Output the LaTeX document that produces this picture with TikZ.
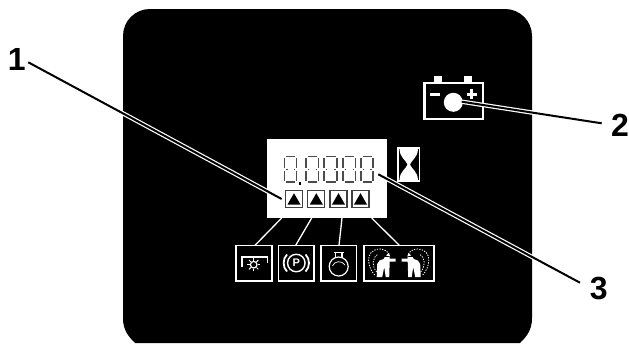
\documentclass[tikz,border=0pt]{standalone}
\usepackage{fontspec}
\setmainfont{Liberation Sans}
\tikzset{
  x=1pt,y=-1pt,
  callout/.style={font=\fontsize{32}{32}\selectfont\bfseries,inner sep=0pt},
  panel/.style={fill=black,draw=none},
  casing/.style={draw=white,line width=4.4pt},
  core/.style={draw=black,line width=2pt},
  iconbox/.style={draw=white,line width=1.6pt,fill=black},
  tick/.style={draw=white,line width=1.3pt},
  tribox/.style={draw=black!75,line width=1.1pt,fill=white},
  seg/.style={draw=black!70,line width=1.5pt},
  iconline/.style={draw=white,line width=1.2pt},
  dots/.style={draw=white,line width=0.8pt,dash pattern=on 1.3pt off 1.3pt},
}
\begin{document}
\begin{tikzpicture}
\useasboundingbox (0,0) rectangle (629,343);
\fill[white] (0,0) rectangle (629,343);
% panel
\path[panel] (135,343) .. controls (128,336) and (123,330) .. (123,318) -- (123,36)
  .. controls (123,21) and (135,9) .. (150,9) -- (505,9)
  .. controls (520,9) and (532,21) .. (532,36) -- (532,318)
  .. controls (532,330) and (527,336) .. (520,343) -- cycle;
% screen
\node[fill=white,draw=none,minimum width=120pt,minimum height=79pt,inner sep=0pt] (screen) at (327,178.5) {};
% digits
\foreach \n/\a/\b in {1/284.5/296.5,2/306/318.5,3/324/337,4/343/355.5,5/361/373}{
  \draw[seg] (\a+1.5,156.7) -- (\b-1.5,156.7);
  \draw[seg] (\a+1.5,169.3) -- (\a+3,169.3);
  \draw[seg] (\b-3,169.3) -- (\b-1.5,169.3);
  \draw[seg] (\a+1.5,182) -- (\b-1.5,182);
  \draw[seg] (\a,158) -- (\a,168);
  \draw[seg] (\a,170.5) -- (\a,180.5);
  \draw[seg] (\b,158) -- (\b,168);
  \draw[seg] (\b,170.5) -- (\b,180.5);
}
\fill[black] (298.5,182) rectangle (301.3,184.8);
% triangle boxes
\foreach \n/\a in {1/285.5,2/307.8,3/330,4/352}{
  \node[tribox,minimum size=17pt,inner sep=0pt] (tb\n) at (\a+8.5,199) {};
  \fill[black] (\a+2,204.5) -- (\a+8.5,193.2) -- (\a+15,204.5) -- cycle;
}
% hourglass
\node[draw=white,line width=1.6pt,minimum width=21.5pt,minimum height=33pt,inner sep=0pt] (hg) at (408.7,164.5) {};
\fill[white] (399.5,149) .. controls (400,158) and (406,160) .. (407.5,164.5)
  .. controls (406,169) and (400,171) .. (399.5,180) -- (418,180)
  .. controls (417.5,171) and (411.5,169) .. (410,164.5)
  .. controls (411.5,160) and (417.5,158) .. (418,149) -- cycle;
% icon boxes
\node[iconbox,minimum width=35.5pt,minimum height=35.5pt,inner sep=0pt] (ib1) at (254,263.3) {};
\node[iconbox,minimum width=35.5pt,minimum height=35.5pt,inner sep=0pt] (ib2) at (296.3,263.3) {};
\node[iconbox,minimum width=35.5pt,minimum height=35.5pt,inner sep=0pt] (ib3) at (338.7,263.3) {};
\node[iconbox,minimum width=70pt,minimum height=35.5pt,inner sep=0pt] (ib4) at (398.7,263.3) {};
% ticks
\coordinate (t1) at (281.7,218); \coordinate (t2) at (311.7,218);
\coordinate (t3) at (342,218); \coordinate (t4) at (371.7,218);
\coordinate (b1) at (255,245.3); \coordinate (b2) at (295.7,245.3);
\coordinate (b3) at (339,245.3); \coordinate (b4) at (399.3,245.3);
\foreach \i in {1,2,3,4}{\draw[tick] (t\i) -- (b\i);}
% icon 1
\draw[iconline] (242,267) -- (242,257) -- (267.5,257) -- (267.5,263);
\draw[iconline] (253.7,264.7) circle[radius=3.3];
\foreach \ang in {0,45,...,315}{\draw[white,line width=1pt] (253.7,264.7) ++(\ang:4) -- ++(\ang:2.6);}
% icon 2
\node[draw=white,circle,line width=1.4pt,minimum size=17.5pt,inner sep=0pt,text=white,font=\fontsize{11}{11}\selectfont\bfseries] (pk) at (296.3,263) {P};
\draw[iconline,line width=1.8pt] (287,254.5) .. controls (282.5,259) and (282.5,267) .. (287,271.5);
\draw[iconline,line width=1.8pt] (305.6,254.5) .. controls (310.1,259) and (310.1,267) .. (305.6,271.5);
% icon 3
\draw[iconline] (334,252.5) -- (343.5,252.5) (335.5,252.5) -- (335.5,258) (342,252.5) -- (342,258);
\draw[iconline] (338.7,266.5) circle[radius=9.5];
\draw[iconline,line width=0.7pt] (332.5,266) .. controls (334,261) and (342,260) .. (345,265);
% icon 4
\foreach \s in {1,-1}{
  \begin{scope}[shift={(398.7,0)},xscale=\s]
  \fill[white] (-22,277) -- (-21.5,264) .. controls (-21,261) and (-18,259.5) .. (-15,259)
    -- (-14,257) -- (-9,257) -- (-9,258.7) -- (-3,258.7) -- (-3,261.5) -- (-9,261.5)
    -- (-9.5,277) -- (-13,277) -- (-14.5,267) -- (-16.5,277) -- cycle;
  \draw[dots] (-24,275) .. controls (-31,268) and (-35,250) .. (-19,249) .. controls (-15,249) and (-11,251) .. (-9,255);
  \draw[dots] (-22,272) .. controls (-27,266) and (-27,258) .. (-20.5,254);
  \fill[white] (-8.5,256.5) -- (-12.5,255.5) -- (-10,253) -- cycle;
  \end{scope}
}
% battery
\node[draw=white,line width=2.4pt,minimum width=58.5pt,minimum height=35.5pt,inner sep=0pt] (bat) at (453.7,101) {};
\fill[white] (434.3,75.7) rectangle (442.3,82);
\fill[white] (464.3,75.7) rectangle (472.3,82);
\fill[white] (453.3,102.3) circle[radius=9.5];
\fill[white] (430,92.8) rectangle (440,95.5);
\fill[white] (466.7,93) rectangle (476.7,95.7);
\fill[white] (470.4,89.3) rectangle (473.1,99.3);
% leaders
\coordinate (e1) at (281.7,199); \coordinate (e2) at (461.7,101.7); \coordinate (e3) at (378.3,174.3);
\node[callout] (n1) at (16.7,59.5) {1};
\node[callout] (n2) at (620,125) {2};
\node[callout] (n3) at (598.7,289) {3};
\coordinate (s1) at (28.3,62.3); \coordinate (s2) at (601.7,123.3); \coordinate (s3) at (580,282.7);
\foreach \i in {1,2,3}{
  \draw[casing] (s\i) -- (e\i);
  \draw[core] (s\i) -- (e\i);
}
\end{tikzpicture}
\end{document}
